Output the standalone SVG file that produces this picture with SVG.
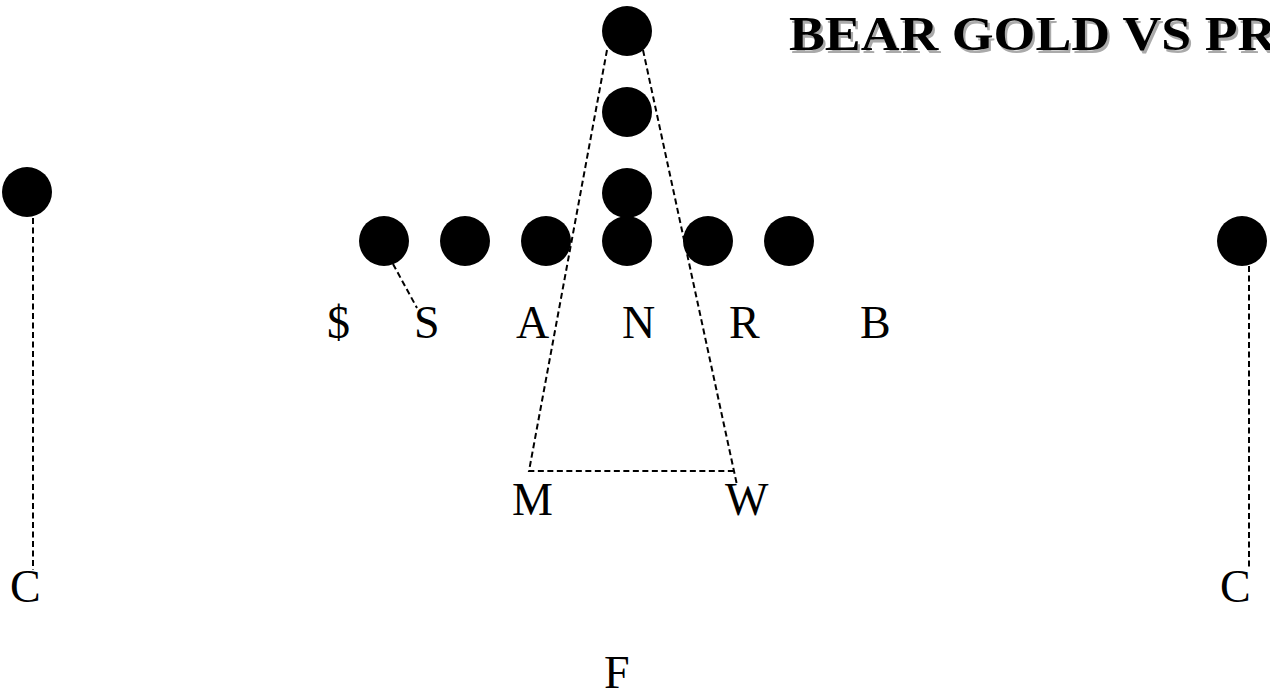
<svg xmlns="http://www.w3.org/2000/svg" width="1270" height="695" viewBox="0 0 1270 695">
<style>
.p{fill:#000}
.d{stroke:#000;stroke-width:2;stroke-dasharray:6 3.5;fill:none}
.l{font-family:"Liberation Serif","Times New Roman",serif;font-size:46px;fill:#000}
.t{font-family:"Liberation Serif","Times New Roman",serif;font-size:48px;font-weight:bold}
</style>
<rect width="1270" height="695" fill="#fff"/>
<g id="connectors">
<line class="d" x1="33" y1="218" x2="33" y2="570"/>
<line class="d" x1="1249" y1="266" x2="1249" y2="570"/>
<line class="d" x1="393" y1="264" x2="417" y2="308"/>
<polyline class="d" points="607,50 529,471 736,471"/>
<line class="d" x1="643" y1="50" x2="737" y2="485"/>
</g>
<g id="title" transform="translate(789,50) scale(1.12,1)">
<text class="t" x="2" y="2.5" fill="#aaa">BEAR GOLD VS PR</text>
<text class="t" x="0" y="0" fill="#000">BEAR GOLD VS PR</text>
</g>
<g id="o-top"><circle class="p" cx="627" cy="31" r="25"/></g>
<g id="o-2"><circle class="p" cx="627" cy="112" r="25"/></g>
<g id="o-3"><circle class="p" cx="627" cy="193" r="25"/></g>
<g id="o-c"><circle class="p" cx="627" cy="241" r="25"/></g>
<g id="o-l1"><circle class="p" cx="384" cy="241" r="25"/></g>
<g id="o-l2"><circle class="p" cx="465" cy="241" r="25"/></g>
<g id="o-l3"><circle class="p" cx="546" cy="241" r="25"/></g>
<g id="o-r1"><circle class="p" cx="708" cy="241" r="25"/></g>
<g id="o-r2"><circle class="p" cx="789" cy="241" r="25"/></g>
<g id="o-wl"><circle class="p" cx="27" cy="192" r="25"/></g>
<g id="o-wr"><circle class="p" cx="1242" cy="241" r="25"/></g>
<g id="labels">
<text class="l" x="327" y="338">$</text>
<text class="l" x="414" y="338">S</text>
<text class="l" x="516" y="338">A</text>
<text class="l" x="622" y="338">N</text>
<text class="l" x="729" y="338">R</text>
<text class="l" x="860" y="338">B</text>
<text class="l" x="512" y="515">M</text>
<text class="l" x="725" y="515">W</text>
<text class="l" x="10" y="602">C</text>
<text class="l" x="1220" y="602">C</text>
<text class="l" x="604" y="688">F</text>
</g>
</svg>
